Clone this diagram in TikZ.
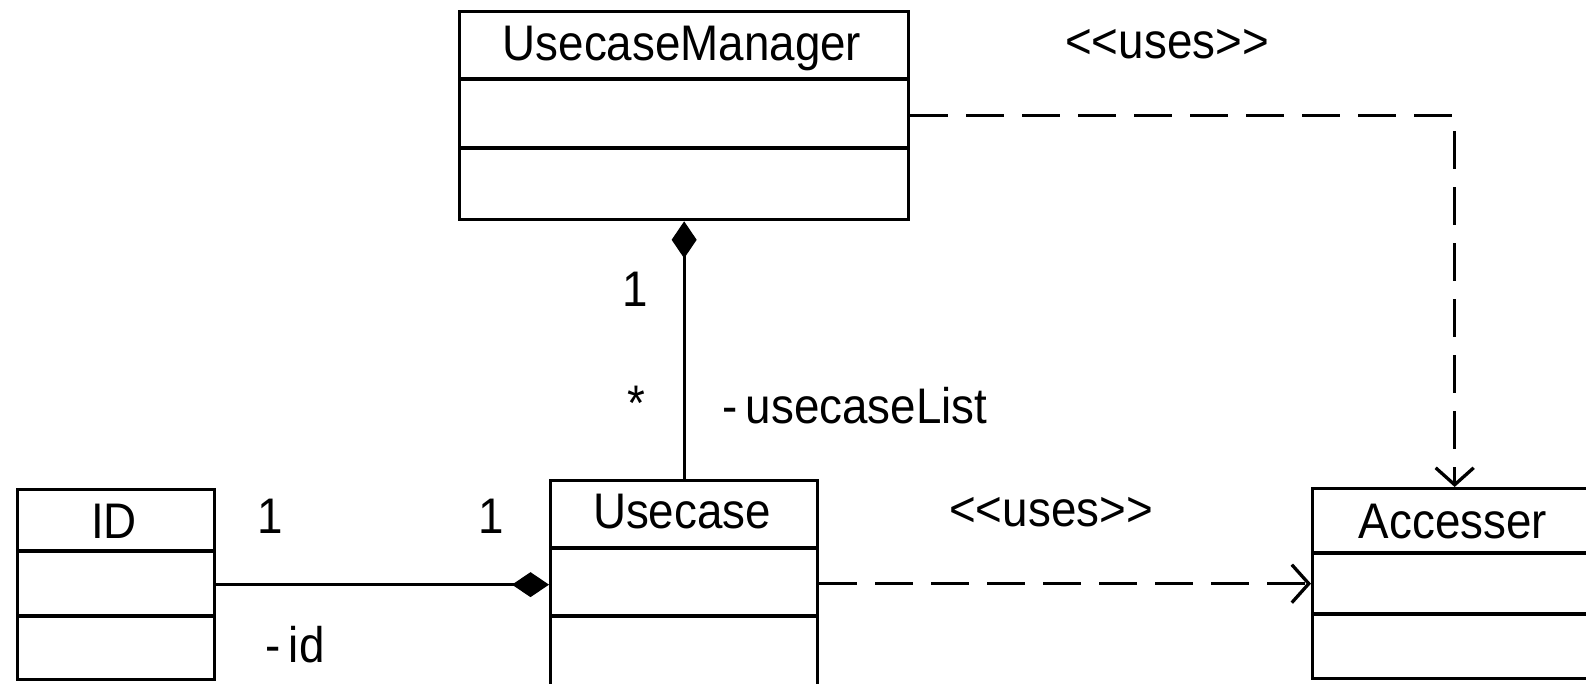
\documentclass[tikz,border=0pt]{standalone}
\usepackage{fontspec}
\setmainfont{Liberation Sans}[FakeStretch=0.915,Ligatures=TeXOff]
\usetikzlibrary{arrows.meta}
\begin{document}
\begin{tikzpicture}[x=1pt,y=-1pt,line width=3.3pt,
  classbox/.style={draw,rectangle,inner sep=0pt,anchor=north west},
  txt/.style={font=\fontsize{50}{60}\selectfont,anchor=base,inner sep=0pt},
  comp/.style={-{Diamond[length=37pt,width=25pt]}},
  dep/.style={dash pattern=on 38pt off 18pt,-{Straight Barb[length=17pt,width=38pt]}}]
\useasboundingbox (0,0) rectangle (1586,683);
\clip (0,0) rectangle (1586,683);
% class boxes
\node[classbox,minimum width=449pt,minimum height=208pt] (um) at (458,10) {};
\node[classbox,minimum width=267pt,minimum height=250pt] (uc) at (549,479) {};
\node[classbox,minimum width=197pt,minimum height=190pt] (id) at (16,488) {};
\node[classbox,minimum width=284pt,minimum height=190pt] (acc) at (1311,487) {};
% compartments
\draw (um.west |- 0,79) -- (um.east |- 0,79);
\draw (um.west |- 0,148) -- (um.east |- 0,148);
\draw (uc.west |- 0,548) -- (uc.east |- 0,548);
\draw (uc.west |- 0,616) -- (uc.east |- 0,616);
\draw (id.west |- 0,551) -- (id.east |- 0,551);
\draw (id.west |- 0,616) -- (id.east |- 0,616);
\draw (acc.west |- 0,553) -- (acc.east |- 0,553);
\draw (acc.west |- 0,614) -- (acc.east |- 0,614);
% names
\node[txt] (umName) at (682,60) {UsecaseManager};
\node[txt] (ucName) at (682,528) {Usecase};
\node[txt] (idName) at (114,538) {ID};
\node[txt] (accName) at (1453,538) {Accesser};
% connectors
\draw[comp] (uc.north) -- (um.south);
\draw[comp] (id.east) -- (id.east -| uc.west);
\draw[dep] (um.east) -| (acc.north);
\draw[dep] (uc.east |- acc.west) -- (acc.west);
% labels
\node[txt] (uses1) at (1167,58) {<<uses>>};
\node[txt] (m1) at (635,306) {1};
\node[txt] (m2) at (636,420) {*};
\node[txt,anchor=base west] (role1) at (721,423) {-\kern8pt usecaseList};
\node[txt] (m3) at (270,533) {1};
\node[txt] (m4) at (491,533) {1};
\node[txt] (uses2) at (1051,526) {<<uses>>};
\node[txt,anchor=base west] (role2) at (264,662) {-\kern8pt id};
\end{tikzpicture}
\end{document}
